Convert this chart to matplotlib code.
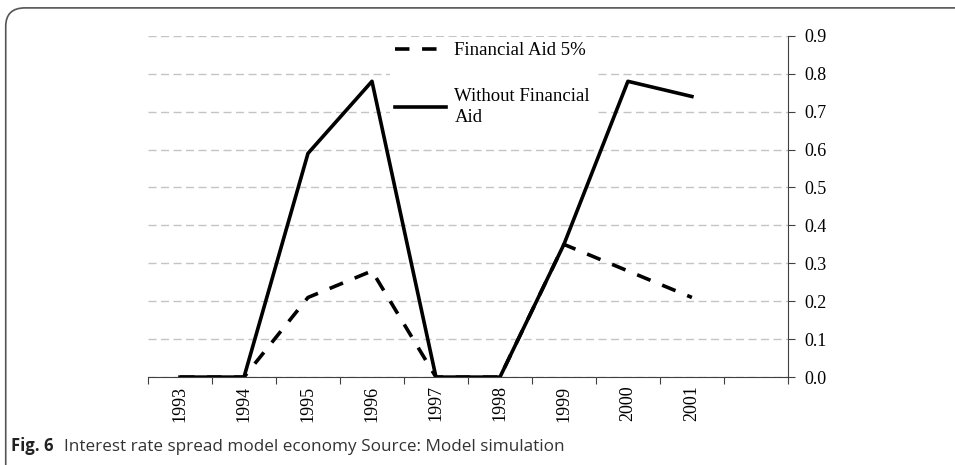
import numpy as np
import matplotlib.pyplot as plt
from matplotlib.patches import FancyBboxPatch

# data
years = ['1993', '1994', '1995', '1996', '1997', '1998', '1999', '2000', '2001']
aid_5 = [0.0, 0.0, 0.21, 0.28, 0.0, 0.0, 0.35, 0.28, 0.21]
no_aid = [0.0, 0.0, 0.59, 0.78, 0.0, 0.0, 0.35, 0.78, 0.74]
y_ticks = [0.0, 0.1, 0.2, 0.3, 0.4, 0.5, 0.6, 0.7, 0.8, 0.9]

serif = 'Liberation Serif'

fig = plt.figure(figsize=(9.55, 4.65), dpi=100)
ax = fig.add_axes([0.155, 0.189, 0.670, 0.734])

x = np.arange(len(years))
ax.plot(x, aid_5, color='black', lw=2.6, dashes=(4, 3.5), label='Financial Aid 5%')
ax.plot(x, no_aid, color='black', lw=2.6, label='Without Financial\nAid')

# one empty category slot on the right, ticks between categories
ax.set_xlim(-0.5, len(years) + 0.5)
ax.set_xticks(np.arange(-0.5, len(years) + 1, 1.0))
ax.set_xticklabels([])
ax.set_xticks(x, minor=True)
ax.set_xticklabels(years, minor=True, rotation=90, fontfamily=serif, fontsize=13)
ax.tick_params(axis='x', which='minor', length=0, pad=6)
ax.tick_params(axis='x', which='major', direction='out', length=5, color='#404040')

ax.set_ylim(0, 0.9)
ax.set_yticks(y_ticks)
ax.set_yticklabels(['%.1f' % v for v in y_ticks], fontfamily=serif, fontsize=13)
ax.yaxis.tick_right()
ax.tick_params(axis='y', direction='out', length=5, color='#404040', pad=7)

ax.grid(axis='y', color='#c4c4c4', linestyle=(0, (5.8, 3.2)), lw=1)
ax.set_axisbelow(True)
for s in ['top', 'left']:
    ax.spines[s].set_visible(False)
ax.spines['right'].set_color('#404040')
ax.spines['bottom'].set_color('#404040')

leg = ax.legend(loc='upper left', bbox_to_anchor=(0.363, 1.025), frameon=True,
                prop={'family': serif, 'size': 13.5}, handlelength=2.7,
                labelspacing=1.5, borderpad=0.3, handletextpad=0.45)
leg.get_frame().set_facecolor('white')
leg.get_frame().set_edgecolor('none')
leg.get_frame().set_alpha(1)
for t in leg.get_texts():
    t.set_linespacing(1.35)

# rounded frame around the figure
frame = FancyBboxPatch((0.006, -0.2), 1.2, 1.183, boxstyle='round,pad=0,rounding_size=0.02',
                       transform=fig.transFigure, fill=False, edgecolor='#555555', lw=1.2,
                       mutation_aspect=2.0, clip_on=False)
fig.patches.append(frame)

fig.text(0.011, 0.03, 'Fig. 6', fontfamily='Open Sans', fontweight='bold', fontsize=12, color='#222222')
fig.text(0.067, 0.03, 'Interest rate spread model economy Source: Model simulation',
         fontfamily='Open Sans', fontsize=12.3, color='#333333')

fig.savefig('out.png', dpi=100)
